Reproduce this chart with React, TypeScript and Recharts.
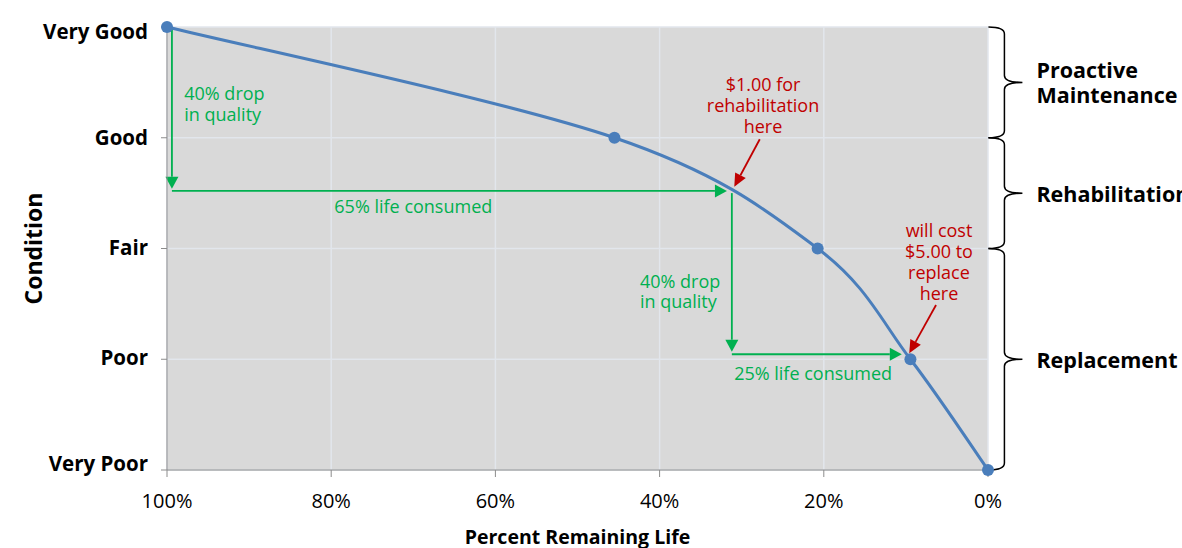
import React from "react";
import {
  CartesianGrid,
  Line,
  LineChart,
  ReferenceDot,
  ReferenceLine,
  XAxis,
  YAxis,
} from "recharts";

// Deterioration curve: percent of remaining life vs condition score
const lifeValues = [100, 45.5, 20.75, 9.45, 0];
const conditionValues = [4, 3, 2, 1, 0];
const conditionLabels = ["Very Poor", "Poor", "Fair", "Good", "Very Good"];
const lifeTicks = [100, 80, 60, 40, 20, 0];
const conditionTicks = [0, 1, 2, 3, 4];

// Green "drop / consumed" arrows, [life, condition] pairs
const greenArrowStarts = [[99.4, 4], [99.4, 2.52], [31.2, 2.5], [31.2, 1.045]];
const greenArrowEnds = [[99.4, 2.54], [31.8, 2.52], [31.2, 1.068], [10.5, 1.045]];

// Red pointer arrows
const redArrowStarts = [[27.8, 2.986], [6.33, 1.49]];
const redArrowEnds = [[30.9, 2.558], [9.59, 1.054]];

// Text notes
const greenNotes = [
  { life: 97.9, cond: 3.4, lines: ["40% drop", "in quality"], anchor: "start" },
  { life: 70.0, cond: 2.38, lines: ["65% life consumed"], anchor: "middle" },
  { life: 42.4, cond: 1.71, lines: ["40% drop", "in quality"], anchor: "start" },
  { life: 21.3, cond: 0.88, lines: ["25% life consumed"], anchor: "middle" },
];
const redNotes = [
  { life: 27.4, cond: 3.485, lines: ["$1.00 for", "rehabilitation", "here"] },
  { life: 5.97, cond: 2.167, lines: ["will cost", "$5.00 to", "replace", "here"] },
];

// Strategy braces on the right
const braceTop = [4, 3, 2];
const braceBottom = [3, 2, 0];
const braceLabels = [["Proactive", "Maintenance"], ["Rehabilitation"], ["Replacement"]];
const braceLife = -2;

const chartData = lifeValues.map((life, i) => ({ life, condition: conditionValues[i] }));

const GREEN = "#00b050";
const RED = "#c00000";
const BLUE = "#4a7ebb";

// spreadsheet-style smoothed line (Catmull-Rom as cubic Beziers)
const smoothCurve = (context: any) => {
  let pts: number[][] = [];
  return {
    areaStart() {},
    areaEnd() {},
    lineStart() {
      pts = [];
    },
    point(x: number, y: number) {
      pts.push([+x, +y]);
    },
    lineEnd() {
      if (!pts.length) return;
      context.moveTo(pts[0][0], pts[0][1]);
      for (let i = 0; i < pts.length - 1; i++) {
        const p0 = pts[i - 1] || pts[i];
        const p1 = pts[i];
        const p2 = pts[i + 1];
        const p3 = pts[i + 2] || p2;
        context.bezierCurveTo(
          p1[0] + (p2[0] - p0[0]) / 6,
          p1[1] + (p2[1] - p0[1]) / 6,
          p2[0] - (p3[0] - p1[0]) / 6,
          p2[1] - (p3[1] - p1[1]) / 6,
          p2[0],
          p2[1]
        );
      }
    },
  };
};

const arrowShape = (color: string, width: number, headLen: number, headW: number) =>
  (p: any) => {
    const { x1, y1, x2, y2 } = p;
    const ang = Math.atan2(y2 - y1, x2 - x1);
    const bx = x2 - headLen * Math.cos(ang);
    const by = y2 - headLen * Math.sin(ang);
    const nx = -Math.sin(ang) * (headW / 2);
    const ny = Math.cos(ang) * (headW / 2);
    return (
      <g>
        <line x1={x1} y1={y1} x2={bx} y2={by} stroke={color} strokeWidth={width} />
        <polygon
          points={`${x2},${y2} ${bx + nx},${by + ny} ${bx - nx},${by - ny}`}
          fill={color}
        />
      </g>
    );
  };

const braceShape = (lines: string[]) => (p: any) => {
  const { x1, y1, y2 } = p;
  const top = Math.min(y1, y2);
  const bot = Math.max(y1, y2);
  const mid = (top + bot) / 2;
  const c = 7;
  const d = `M ${x1 - 16} ${top} Q ${x1} ${top} ${x1} ${top + c} L ${x1} ${mid - c} Q ${x1} ${mid} ${x1 + 18} ${mid} Q ${x1} ${mid} ${x1} ${mid + c} L ${x1} ${bot - c} Q ${x1} ${bot} ${x1 - 16} ${bot}`;
  const lh = 25;
  const startY = mid - ((lines.length - 1) * lh) / 2;
  return (
    <g>
      <path d={d} fill="none" stroke="#000" strokeWidth={1.5} />
      {lines.map((l, i) => (
        <text
          key={i}
          x={x1 + 32}
          y={startY + i * lh}
          fontSize={21.5}
          fontWeight={700}
          fill="#000"
          dominantBaseline="central"
        >
          {l}
        </text>
      ))}
    </g>
  );
};

const noteShape = (lines: string[], color: string, anchor: string, lh: number) => (p: any) => (
  <g>
    {lines.map((l, i) => (
      <text
        key={i}
        x={p.cx}
        y={p.cy + i * lh}
        fill={color}
        fontSize={18}
        textAnchor={anchor as any}
        dominantBaseline="central"
      >
        {l}
      </text>
    ))}
  </g>
);

const yTickShift: Record<number, number> = { 4: 4, 3: -1, 2: -2, 1: -2, 0: -7 };

const renderYTick = (props: any) => {
  const { x, y, payload } = props;
  return (
    <text
      x={x}
      y={y + (yTickShift[payload.value] ?? 0)}
      textAnchor="end"
      dominantBaseline="central"
      fontSize={20.5}
      fontWeight={700}
      fill="#000"
    >
      {conditionLabels[payload.value]}
    </text>
  );
};

export default function App() {
  return (
    <div style={{ position: "absolute", left: 0, top: 0, fontFamily: "'Open Sans', sans-serif" }}>
      <LineChart
        width={1182}
        height={548}
        data={chartData}
        margin={{ top: 27, right: 194, bottom: 0, left: 0 }}
      >
        <CartesianGrid fill="#d9d9d9" fillOpacity={1} stroke="#e2e6ec" strokeWidth={1.5} />
        <XAxis
          dataKey="life"
          type="number"
          domain={[0, 100]}
          reversed
          ticks={lifeTicks}
          tickFormatter={(v) => `${v}%`}
          height={78}
          tickSize={7}
          tickMargin={17}
          stroke="#8c8c8c"
          tick={{ fill: "#000", fontSize: 20 }}
          label={{
            content: (props: any) => {
              const vb = props.viewBox;
              return (
                <text
                  x={vb.x + vb.width / 2}
                  y={vb.y + vb.height - 4}
                  textAnchor="middle"
                  fontSize={19.5}
                  fontWeight={700}
                  fill="#000"
                >
                  Percent Remaining Life
                </text>
              );
            },
          }}
        />
        <YAxis
          type="number"
          domain={[0, 4]}
          ticks={conditionTicks}
          width={167}
          tickSize={6}
          tickMargin={13}
          stroke="#8c8c8c"
          tick={renderYTick}
          label={{
            content: (props: any) => {
              const vb = props.viewBox;
              const cx = vb.x + 33;
              const cy = vb.y + vb.height / 2;
              return (
                <text
                  x={cx}
                  y={cy}
                  transform={`rotate(-90 ${cx} ${cy})`}
                  textAnchor="middle"
                  dominantBaseline="central"
                  fontSize={23}
                  fontWeight={700}
                  fill="#000"
                >
                  Condition
                </text>
              );
            },
          }}
        />
        {greenArrowStarts.map((s, i) => (
          <ReferenceLine
            key={`g${i}`}
            segment={[
              { x: s[0], y: s[1] },
              { x: greenArrowEnds[i][0], y: greenArrowEnds[i][1] },
            ]}
            ifOverflow="visible"
            shape={arrowShape(GREEN, 1.8, 12, 13)}
          />
        ))}
        {redArrowStarts.map((s, i) => (
          <ReferenceLine
            key={`r${i}`}
            segment={[
              { x: s[0], y: s[1] },
              { x: redArrowEnds[i][0], y: redArrowEnds[i][1] },
            ]}
            ifOverflow="visible"
            shape={arrowShape(RED, 1.8, 13, 12)}
          />
        ))}
        {braceTop.map((t, i) => (
          <ReferenceLine
            key={`b${i}`}
            segment={[
              { x: braceLife, y: t },
              { x: braceLife, y: braceBottom[i] },
            ]}
            ifOverflow="visible"
            shape={braceShape(braceLabels[i])}
          />
        ))}
        {greenNotes.map((n, i) => (
          <ReferenceDot
            key={`gn${i}`}
            x={n.life}
            y={n.cond}
            r={0}
            ifOverflow="visible"
            shape={noteShape(n.lines, GREEN, n.anchor, 20.5)}
          />
        ))}
        {redNotes.map((n, i) => (
          <ReferenceDot
            key={`rn${i}`}
            x={n.life}
            y={n.cond}
            r={0}
            ifOverflow="visible"
            shape={noteShape(n.lines, RED, "middle", 21)}
          />
        ))}
        <Line
          dataKey="condition"
          type={smoothCurve as any}
          stroke={BLUE}
          strokeWidth={3}
          dot={{ r: 6, fill: BLUE, stroke: BLUE, strokeWidth: 0 }}
          activeDot={false}
          isAnimationActive={false}
        />
      </LineChart>
    </div>
  );
}
